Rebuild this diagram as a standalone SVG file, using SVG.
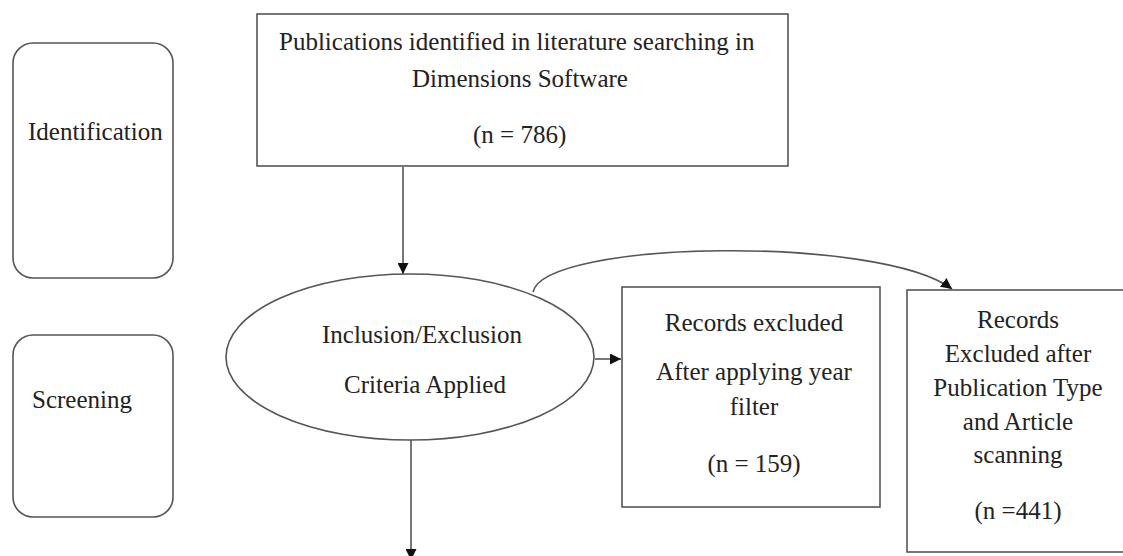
<svg xmlns="http://www.w3.org/2000/svg" width="1123" height="556" viewBox="0 0 1123 556">
<style>
.box{fill:#fff;stroke:#555;stroke-width:1.6}
.t{font-family:"Liberation Serif","Times New Roman",serif;font-size:25px;fill:#222}
.m{text-anchor:middle}
.c{fill:none;stroke:#555;stroke-width:1.6}
</style>
<defs>
<marker id="ah" viewBox="0 0 10 10" refX="10" refY="5" markerWidth="11" markerHeight="11" markerUnits="userSpaceOnUse" orient="auto">
<path d="M0,0 L10,5 L0,10 z" fill="#111"/>
</marker>
</defs>
<rect width="1123" height="556" fill="#fff"/>
<g id="identification">
<rect class="box" x="13" y="43" width="160" height="235" rx="20"/>
<text class="t" x="28" y="140">Identification</text>
</g>
<g id="screening">
<rect class="box" x="13" y="335" width="160" height="182" rx="20"/>
<text class="t" x="32" y="408">Screening</text>
</g>
<g id="publications">
<rect class="box" x="257" y="14" width="531" height="152"/>
<text class="t" x="279" y="50">Publications identified in literature searching in</text>
<text class="t" x="412" y="87">Dimensions Software</text>
<text class="t" x="473" y="143">(n = 786)</text>
</g>
<g id="criteria">
<ellipse class="box" cx="410" cy="357" rx="184" ry="83"/>
<text class="t m" x="422" y="343">Inclusion/Exclusion</text>
<text class="t m" x="425" y="393">Criteria Applied</text>
</g>
<g id="excluded-year">
<rect class="box" x="622" y="287" width="258" height="220"/>
<text class="t m" x="754" y="331">Records excluded</text>
<text class="t m" x="754" y="380">After applying year</text>
<text class="t m" x="754" y="415">filter</text>
<text class="t m" x="754" y="472">(n = 159)</text>
</g>
<g id="excluded-type">
<rect class="box" x="907" y="290" width="230" height="262"/>
<text class="t m" x="1018" y="328">Records</text>
<text class="t m" x="1018" y="362">Excluded after</text>
<text class="t m" x="1018" y="396">Publication Type</text>
<text class="t m" x="1018" y="430">and Article</text>
<text class="t m" x="1018" y="463">scanning</text>
<text class="t m" x="1018" y="519">(n =441)</text>
</g>
<g id="connectors">
<path class="c" d="M403,167 L403,274" marker-end="url(#ah)"/>
<path class="c" d="M595,359 L621,359" marker-end="url(#ah)"/>
<path class="c" d="M411,440 L411,560" marker-end="url(#ah)"/>
<path class="c" d="M533,292 C545,240 880,235 952,289" marker-end="url(#ah)"/>
</g>
</svg>
